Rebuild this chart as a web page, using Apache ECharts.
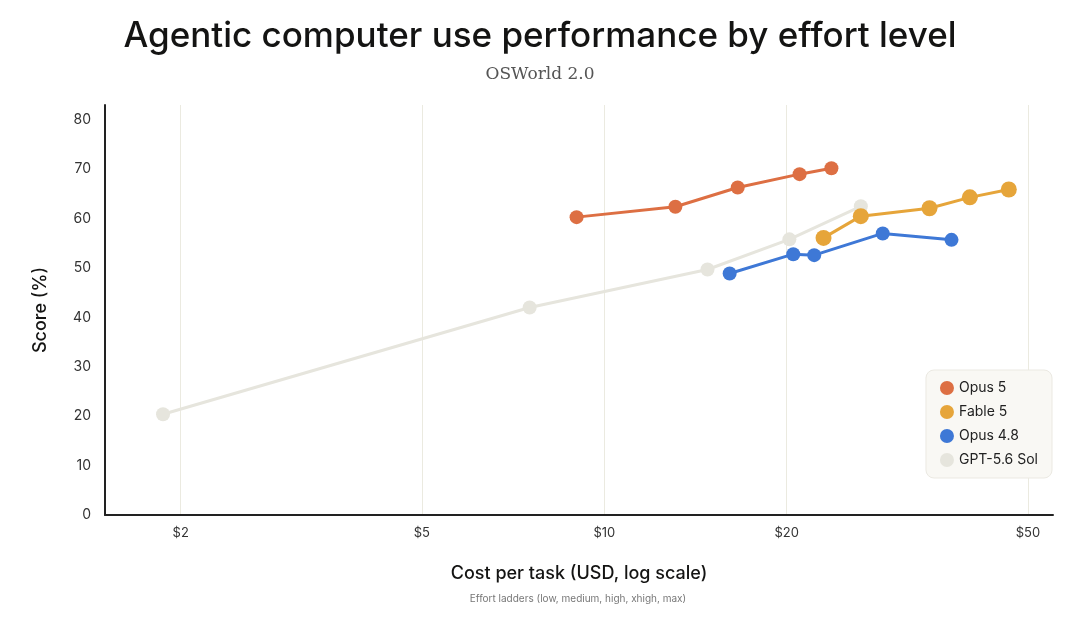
<!DOCTYPE html>
<html>
<head>
<meta charset="utf-8">
<script src="https://cdn.jsdelivr.net/npm/echarts@6/dist/echarts.min.js"></script>
<style>
  html, body { margin: 0; padding: 0; background: #fff; }
  #chart { width: 1080px; height: 620px; }
</style>
</head>
<body>
<div id="chart"></div>
<script>
// cost per task (USD) and score (%) per effort ladder
const opus5Cost = [9.0, 13.1, 16.6, 21.0, 23.7];
const opus5Score = [60.3, 62.4, 66.3, 69.0, 70.2];
const fable5Cost = [23.0, 26.5, 34.4, 40.1, 46.5];
const fable5Score = [56.1, 60.5, 62.1, 64.3, 65.9];
const opus48Cost = [16.1, 20.5, 22.2, 28.8, 37.4];
const opus48Score = [48.9, 52.8, 52.6, 57.0, 55.7];
const gptCost = [1.87, 7.53, 14.8, 20.2, 26.5];
const gptScore = [20.4, 42.0, 49.7, 55.8, 62.5];

const xTicks = [2, 5, 10, 20, 50];
const legendOrder = ['Opus 5', 'Fable 5', 'Opus 4.8', 'GPT-5.6 Sol'];

const pairs = (xs, ys) => xs.map((x, i) => [x, ys[i]]);

const chart = echarts.init(document.getElementById('chart'));

function line(name, color, data, size, z) {
  return {
    name: name,
    type: 'line',
    data: data,
    z: z,
    symbol: 'circle',
    symbolSize: size,
    showSymbol: true,
    lineStyle: { color: color, width: 3 },
    itemStyle: { color: color },
    emphasis: { disabled: true }
  };
}

chart.setOption({
  backgroundColor: '#ffffff',
  animation: false,
  title: [
    {
      text: 'Agentic computer use performance by effort level',
      left: 'center',
      top: 14,
      textStyle: { fontFamily: 'Inter', fontSize: 35, fontWeight: 500, color: '#141413' }
    },
    {
      text: 'OSWorld 2.0',
      left: 'center',
      top: 61,
      textStyle: { fontFamily: 'DejaVu Serif', fontSize: 17, fontWeight: 'normal', color: '#555' }
    },
    {
      text: 'Effort ladders (low, medium, high, xhigh, max)',
      left: 573,
      textAlign: 'center',
      top: 589,
      textStyle: { fontFamily: 'Inter', fontSize: 10, fontWeight: 'normal', color: '#777' }
    }
  ],
  legend: {
    data: legendOrder,
    orient: 'vertical',
    right: 28,
    top: 370,
    backgroundColor: '#f9f8f4',
    borderColor: '#ebe9e2',
    borderWidth: 1,
    borderRadius: 8,
    padding: [11, 14, 11, 14],
    itemGap: 10,
    itemWidth: 14,
    itemHeight: 14,
    icon: 'circle',
    textStyle: { fontFamily: 'Inter', fontSize: 14, color: '#222' }
  },
  grid: { left: 105, right: 27, top: 105, bottom: 105 },
  xAxis: {
    type: 'log',
    logBase: 10,
    min: 1.5,
    max: 55,
    name: 'Cost per task (USD, log scale)',
    nameLocation: 'middle',
    nameGap: 50,
    nameTextStyle: { fontFamily: 'Inter', fontSize: 18, fontWeight: 500, color: '#141413' },
    axisLine: { show: true, lineStyle: { color: '#222', width: 2 } },
    axisTick: { show: false, customValues: xTicks },
    axisLabel: {
      customValues: xTicks,
      formatter: v => '$' + v,
      fontFamily: 'Inter',
      fontSize: 13,
      color: '#333',
      margin: 12
    },
    splitLine: { show: true, lineStyle: { color: '#ebeae0', width: 1 } },
    minorSplitLine: { show: false }
  },
  yAxis: {
    type: 'value',
    min: 0,
    max: 83,
    interval: 10,
    name: 'Score (%)',
    nameLocation: 'middle',
    nameGap: 55,
    nameRotate: 90,
    nameTextStyle: { fontFamily: 'Inter', fontSize: 18, fontWeight: 500, color: '#141413' },
    axisLine: { show: true, lineStyle: { color: '#222', width: 2 } },
    axisTick: { show: false },
    axisLabel: { showMaxLabel: false, fontFamily: 'Inter', fontSize: 14, color: '#333', margin: 14 },
    splitLine: { show: false }
  },
  series: [
    line('GPT-5.6 Sol', '#e6e5dd', pairs(gptCost, gptScore), 14, 2),
    line('Opus 4.8', '#3e78d6', pairs(opus48Cost, opus48Score), 14, 3),
    line('Fable 5', '#e6a53a', pairs(fable5Cost, fable5Score), 16, 4),
    line('Opus 5', '#dd6f43', pairs(opus5Cost, opus5Score), 14, 5)
  ]
});
</script>
</body>
</html>
